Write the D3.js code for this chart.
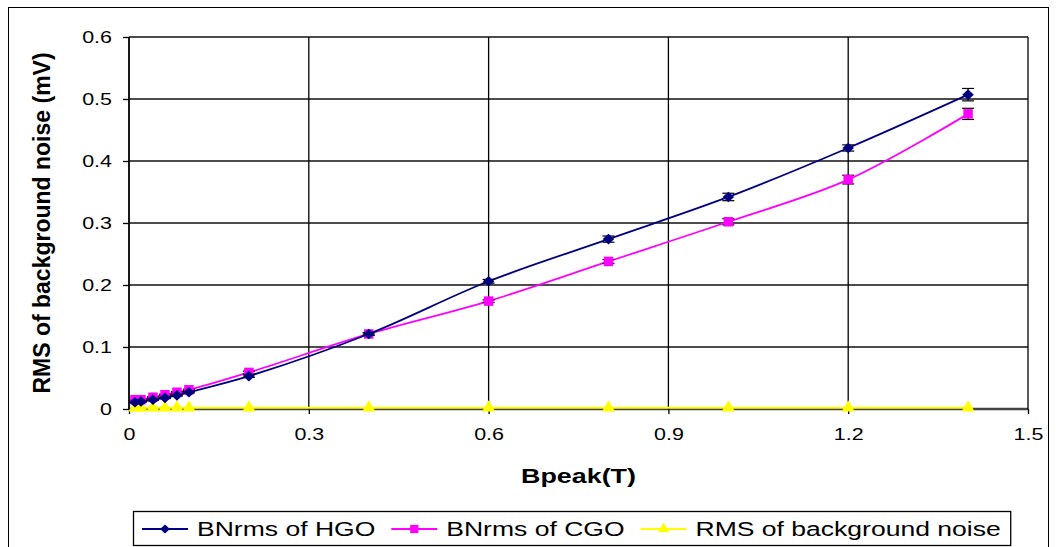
<!DOCTYPE html>
<html>
<head>
<meta charset="utf-8">
<script src="https://cdn.jsdelivr.net/npm/d3@7"></script>
<style>
  body { margin: 0; background: #fff; }
  svg { display: block; font-family: "Liberation Sans", Arial, sans-serif; }
</style>
</head>
<body>
<div id="container"></div>
<script>
// x values (Bpeak, T)
var bpeak = [0.01, 0.02, 0.04, 0.06, 0.08, 0.1, 0.2, 0.4, 0.6, 0.8, 1.0, 1.2, 1.4];
var hgo = [0.011, 0.012, 0.015, 0.018, 0.022, 0.027, 0.053, 0.121, 0.206, 0.274, 0.342, 0.421, 0.507];
var hgoErr = [0.001, 0.001, 0.001, 0.001, 0.001, 0.001, 0.002, 0.002, 0.003, 0.005, 0.006, 0.005, 0.010];
var cgo = [0.015, 0.015, 0.019, 0.023, 0.027, 0.031, 0.059, 0.121, 0.174, 0.238, 0.302, 0.370, 0.476];
var cgoErr = [0.001, 0.001, 0.001, 0.001, 0.001, 0.001, 0.002, 0.002, 0.002, 0.003, 0.005, 0.007, 0.009];
var noise = [0.002, 0.002, 0.002, 0.002, 0.002, 0.002, 0.002, 0.002, 0.002, 0.002, 0.002, 0.002, 0.002];
var xTicks = [0, 0.3, 0.6, 0.9, 1.2, 1.5];
var yTicks = [0, 0.1, 0.2, 0.3, 0.4, 0.5, 0.6];
var seriesNames = ["BNrms of HGO", "BNrms of CGO", "RMS of background noise"];

var W = 1056, H = 547;
var svg = d3.select("#container").append("svg")
  .attr("width", W).attr("height", H);

// the original picture has its text a bit wide, so stretch it horizontally
function widen(sel, s) {
  sel.each(function() {
    var w = this.getComputedTextLength();
    d3.select(this).attr("textLength", w * s).attr("lengthAdjust", "spacingAndGlyphs");
  });
}

// outer chart frame
svg.append("rect").attr("x", 8.5).attr("y", 7.5).attr("width", 1040).attr("height", 560)
  .attr("fill", "none").attr("stroke", "#000").attr("stroke-width", 1);

var x = d3.scaleLinear().domain([0, 1.5]).range([129, 1028]);
var y = d3.scaleLinear().domain([0, 0.6]).range([409, 37]);

// gridlines
svg.append("g").selectAll("line").data(yTicks).enter().append("line")
  .attr("x1", x(0)).attr("x2", x(1.5))
  .attr("y1", function(d) { return y(d); }).attr("y2", function(d) { return y(d); })
  .attr("stroke", function(d) { return d === 0 ? "#444" : "#111"; })
  .attr("stroke-width", function(d) { return d === 0 ? 2.5 : 1.3; });
svg.append("g").selectAll("line").data(xTicks).enter().append("line")
  .attr("y1", y(0)).attr("y2", y(0.6))
  .attr("x1", function(d) { return x(d); }).attr("x2", function(d) { return x(d); })
  .attr("stroke", "#000").attr("stroke-width", function(d) { return d === 0 ? 1.8 : 1.3; });

// axes
var fmt = function(d) { return d === 0 ? "0" : d3.format(".1f")(d); };
var yAxis = d3.axisLeft(y).tickValues(yTicks).tickSize(6).tickPadding(11).tickFormat(fmt);
var xAxis = d3.axisBottom(x).tickValues(xTicks).tickSize(5).tickPadding(14).tickFormat(fmt);

var gy = svg.append("g").attr("transform", "translate(" + x(0) + ",0)").call(yAxis);
var gx = svg.append("g").attr("transform", "translate(0," + y(0) + ")").call(xAxis);
[gy, gx].forEach(function(g) {
  g.select(".domain").remove();
  g.selectAll(".tick line").attr("stroke", "#000").attr("stroke-width", 1.3);
  g.selectAll(".tick text").attr("fill", "#000").style("font-size", "16.5px")
    .style("font-family", "'Liberation Sans', Arial, sans-serif");
  widen(g.selectAll(".tick text"), 1.3);
});

// axis titles
var xt = svg.append("text").attr("x", x(0.75)).attr("y", 483).attr("text-anchor", "middle")
  .style("font-size", "21px").style("font-weight", "bold").text("Bpeak(T)");
widen(xt, 1.28);
svg.append("text").attr("transform", "translate(50," + y(0.3) + ") rotate(-90)")
  .attr("text-anchor", "middle")
  .style("font-size", "23px").style("font-weight", "bold").text("RMS of background noise (mV)");

var line = function(vals) {
  return d3.line().curve(d3.curveCatmullRom.alpha(0.5))
    .x(function(d, i) { return x(bpeak[i]); })
    .y(function(d) { return y(d); })(vals);
};

// a wide diamond like Excel's marker
var diamond = { draw: function(ctx, size) {
  var r = Math.sqrt(size) / 2 * 1.25;
  ctx.moveTo(0, -r * 0.92); ctx.lineTo(r, 0); ctx.lineTo(0, r * 0.92); ctx.lineTo(-r, 0); ctx.closePath();
} };

var series = [
  { name: seriesNames[0], vals: hgo, err: hgoErr, color: "#000080", sym: diamond, size: 85 },
  { name: seriesNames[1], vals: cgo, err: cgoErr, color: "#FF00FF", sym: d3.symbolSquare, size: 90 },
  { name: seriesNames[2], vals: noise, err: null, color: "#FFFF00", sym: d3.symbolTriangle, size: 75 }
];

series.slice().reverse().forEach(function(s) {
  var g = svg.append("g");
  g.append("path").attr("d", line(s.vals)).attr("fill", "none")
    .attr("stroke", s.color).attr("stroke-width", 1.8);
  if (s.err) {
    s.vals.forEach(function(v, i) {
      var cx = x(bpeak[i]), y1 = y(v + s.err[i]), y2 = y(v - s.err[i]);
      g.append("line").attr("x1", cx).attr("x2", cx).attr("y1", y1).attr("y2", y2)
        .attr("stroke", "#000").attr("stroke-width", 1.2);
      [y1, y2].forEach(function(yy) {
        g.append("line").attr("x1", cx - 6).attr("x2", cx + 6).attr("y1", yy).attr("y2", yy)
          .attr("stroke", "#000").attr("stroke-width", 1.2);
      });
    });
  }
  g.selectAll("path.m").data(s.vals).enter().append("path").attr("class", "m")
    .attr("d", d3.symbol().type(s.sym).size(s.size))
    .attr("transform", function(d, i) { return "translate(" + x(bpeak[i]) + "," + y(d) + ")"; })
    .attr("fill", s.color);
});

// legend, entries packed one after another
var leg = svg.append("g");
var box = leg.append("rect").attr("x", 133.5).attr("y", 511.5).attr("height", 34)
  .attr("fill", "#fff").attr("stroke", "#000").attr("stroke-width", 1.3);
var lx = 142;
series.forEach(function(s) {
  var ly = 529;
  leg.append("line").attr("x1", lx).attr("x2", lx + 46).attr("y1", ly).attr("y2", ly)
    .attr("stroke", s.color).attr("stroke-width", 2);
  leg.append("path").attr("d", d3.symbol().type(s.sym).size(s.size * 0.75))
    .attr("transform", "translate(" + (lx + 23) + "," + ly + ")").attr("fill", s.color);
  var t = leg.append("text").attr("x", lx + 55).attr("y", ly + 7)
    .style("font-size", "19.5px").text(s.name);
  widen(t, 1.36);
  lx = lx + 55 + t.node().getComputedTextLength() + 16;
});
box.attr("width", lx - 16 - 133.5 + 10);
</script>
</body>
</html>
